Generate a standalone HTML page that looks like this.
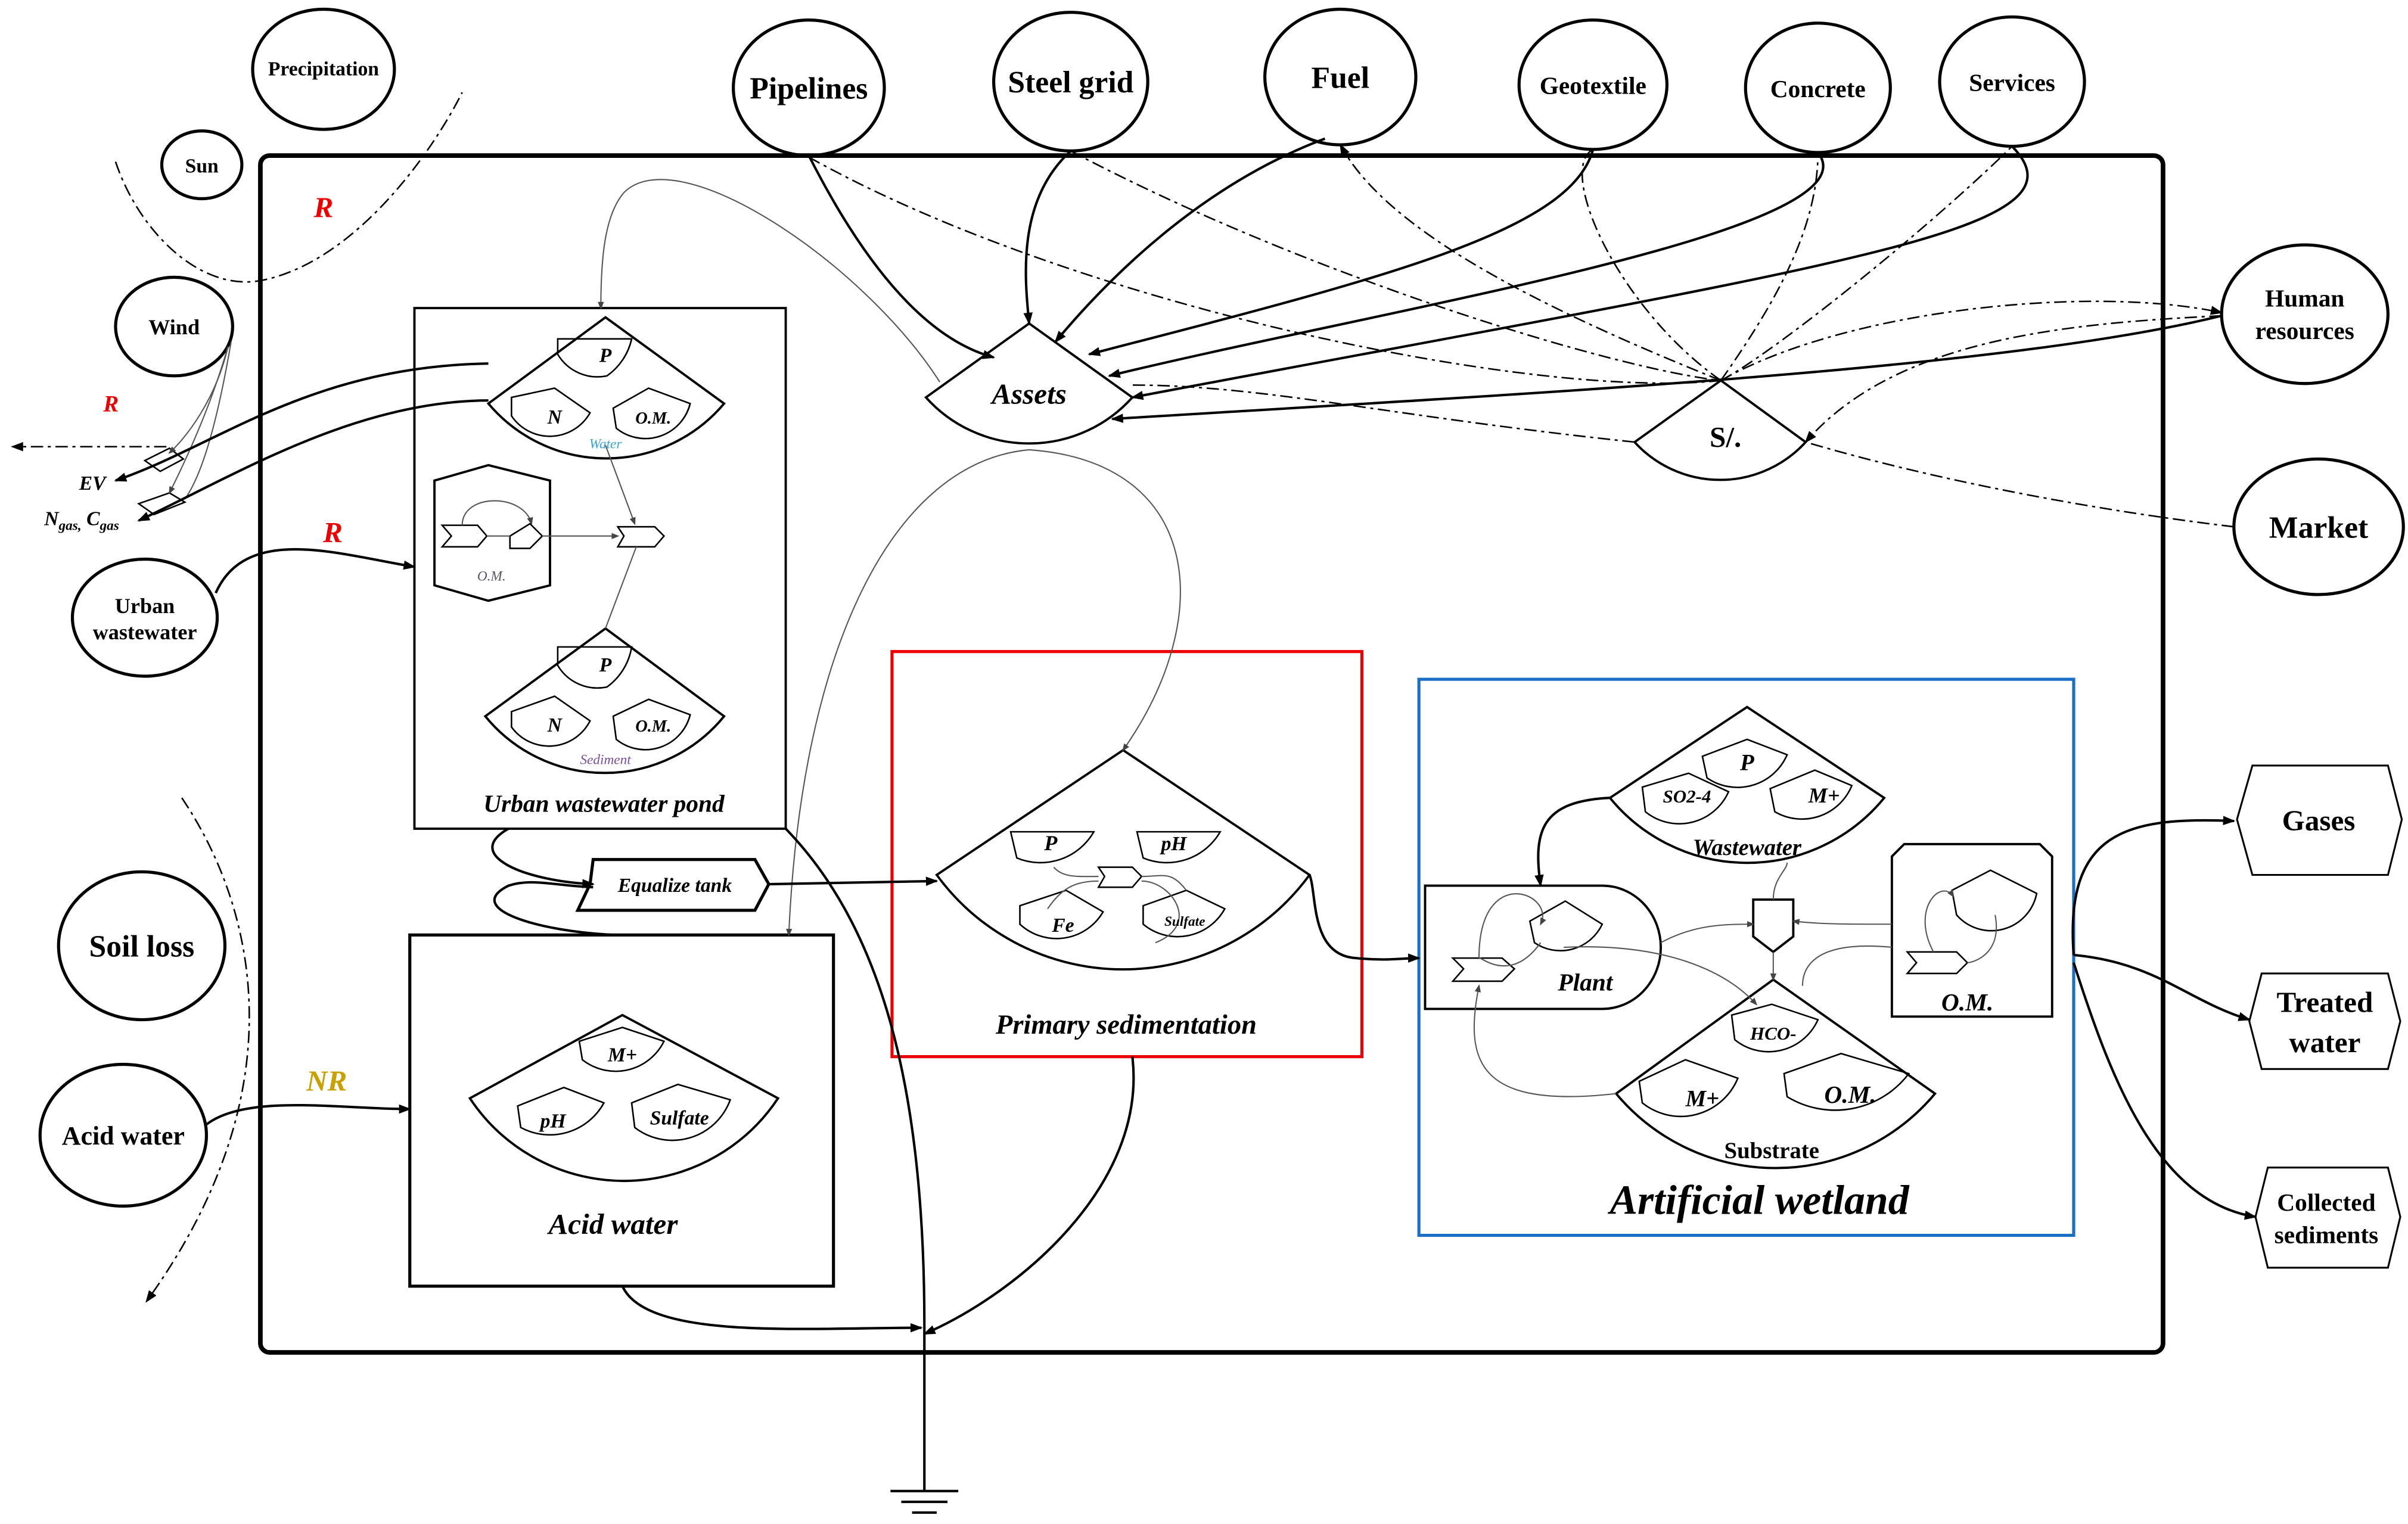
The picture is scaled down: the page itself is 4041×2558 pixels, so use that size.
<!DOCTYPE html>
<html><head><meta charset="utf-8"><style>
html,body{margin:0;padding:0;background:#fff}
svg{display:block}
text{font-family:"Liberation Serif",serif;font-weight:bold;fill:#000}
.i{font-style:italic}
</style></head><body>
<svg width="4041" height="2558" viewBox="0 0 1563 989.4" xmlns="http://www.w3.org/2000/svg">
<defs>
<marker id="a" markerWidth="8" markerHeight="8" refX="7" refY="4" orient="auto" markerUnits="userSpaceOnUse"><path d="M0,1 L8,4 L0,7 Z" fill="#000"/></marker>
<marker id="s" markerWidth="5" markerHeight="5" refX="4" refY="2.5" orient="auto" markerUnits="userSpaceOnUse"><path d="M0,0.5 L5,2.5 L0,4.5 Z" fill="#444"/></marker>
</defs>
<rect width="1563" height="989.4" fill="#fff"/>
<g fill="none" stroke="#000">
<rect x="169" y="101" width="1235" height="777" rx="6" stroke-width="3"/>
<g stroke-width="2">
<ellipse cx="525" cy="57" rx="49" ry="44"/><ellipse cx="695" cy="53" rx="50" ry="45"/>
<ellipse cx="870" cy="50" rx="49" ry="44"/><ellipse cx="1034" cy="55" rx="48" ry="42"/>
<ellipse cx="1180" cy="57" rx="47" ry="42"/><ellipse cx="1306" cy="53" rx="47" ry="42"/>
<ellipse cx="210" cy="45" rx="46" ry="39"/><ellipse cx="131" cy="107" rx="26" ry="22"/>
<ellipse cx="113" cy="212" rx="38" ry="32"/><ellipse cx="94" cy="401" rx="47" ry="38"/>
<ellipse cx="92" cy="614" rx="54" ry="48"/><ellipse cx="80" cy="737" rx="54" ry="46"/>
<ellipse cx="1496" cy="204" rx="54" ry="45"/><ellipse cx="1505" cy="342" rx="55" ry="44"/>
</g>
<path d="M1462,497 L1550,497 L1559,532 L1550,568 L1462,568 L1452,532 Z" stroke-width="1.2"/>
<path d="M1468,632 L1550,632 L1558,663 L1550,694 L1468,694 L1460,663 Z" stroke-width="1.2"/>
<path d="M1472,758 L1550,758 L1558,790 L1550,823 L1472,823 L1464,790 Z" stroke-width="1.2"/>
<rect x="269" y="200" width="241" height="338" stroke-width="1.5"/>
<rect x="266" y="607" width="275" height="228" stroke-width="2"/>
<rect x="579" y="423" width="305" height="263" stroke="#e00" stroke-width="2"/>
<rect x="921" y="441" width="425" height="361" stroke="#1a6fc4" stroke-width="2"/>
<g stroke-width="1.5">
<path d="M668,210 L735,258 A90,90 0 0 1 601,258 Z"/>
<path d="M1117,247 L1172,287 A75,75 0 0 1 1061,287 Z"/>
<path d="M393,206 L470,262 A100,100 0 0 1 317,262 Z"/>
<path d="M393,408 L470,465 A100,100 0 0 1 315,465 Z"/>
<path d="M729,487 L850,568 A150,150 0 0 1 608,568 Z"/>
<path d="M404,659 L505,713 A120,120 0 0 1 305,713 Z"/>
<path d="M1134,459 L1223,518 A115,115 0 0 1 1045,518 Z"/>
<path d="M1151,636 L1256,710 A135,135 0 0 1 1049,710 Z"/>
<path d="M1236,548 L1324,548 L1332,556 L1332,660 L1228,660 L1228,556 Z"/>
<path d="M925,575 L1040,575 A38,40 0 0 1 1040,655 L925,655 Z"/>
<path d="M385,558 L490,558 L499,574 L490,591 L375,591 L383,574 Z" stroke-width="2"/>
<path d="M1138,584 L1164,584 L1164,608 L1151,618 L1138,608 Z"/>
<path d="M282,312 L317,302 L357,312 L357,380 L317,390 L282,380 Z"/>
</g>
<g stroke-width="1">
<path d="M362,220 L410,220 A40,40 0 0 1 394,244 A30,30 0 0 1 362,230 Z"/>
<path d="M332,258 L360,252 L383,268 A30,30 0 0 1 332,270 Z"/>
<path d="M398,265 L421,252 L448,262 A30,30 0 0 1 400,278 Z"/>
<path d="M362,420 L410,420 A40,40 0 0 1 394,446 A30,30 0 0 1 362,432 Z"/>
<path d="M332,462 L360,452 L383,468 A30,30 0 0 1 332,472 Z"/>
<path d="M398,465 L421,454 L448,464 A30,30 0 0 1 400,480 Z"/>
<path d="M656,540 L710,540 A40,40 0 0 1 660,557 Z"/>
<path d="M738,540 L792,540 A40,40 0 0 1 742,557 Z"/>
<path d="M662,588 L692,578 L716,592 A35,35 0 0 1 662,600 Z"/>
<path d="M742,588 L770,578 L795,590 A35,35 0 0 1 742,600 Z"/>
<path d="M376,676 L404,667 L431,676 A35,35 0 0 1 378,688 Z"/>
<path d="M336,718 L366,706 L392,716 A40,40 0 0 1 338,732 Z"/>
<path d="M410,716 L440,704 L474,714 A40,40 0 0 1 412,732 Z"/>
<path d="M1105,491 L1134,480 L1160,490 A35,35 0 0 1 1108,505 Z"/>
<path d="M1066,511 L1096,502 L1122,514 A35,35 0 0 1 1068,527 Z"/>
<path d="M1149,512 L1178,500 L1202,510 A35,35 0 0 1 1152,527 Z"/>
<path d="M1124,659 L1150,652 L1180,662 A35,35 0 0 1 1126,675 Z"/>
<path d="M1064,702 L1094,688 L1128,700 A40,40 0 0 1 1066,716 Z"/>
<path d="M1158,697 L1195,684 L1239,697 A60,60 0 0 1 1160,712 Z"/>
<path d="M993,598 L1016,585 L1040,600 A30,30 0 0 1 996,612 Z"/>
<path d="M1267,578 L1292,565 L1322,580 A30,30 0 0 1 1270,594 Z"/>
<path d="M287,341 L310,341 L316,348 L310,355 L287,355 L293,348 Z"/>
<path d="M331,348 L344,340 L352,348 L344,356 L331,356 Z"/>
<path d="M401,342 L425,342 L431,348 L425,355 L401,355 L405,348 Z"/>
<path d="M713,563 L735,563 L741,569 L735,576 L713,576 L717,569 Z"/>
<path d="M943,622 L975,622 L983,629 L975,637 L943,637 L950,629 Z"/>
<path d="M1238,618 L1270,618 L1277,625 L1270,632 L1238,632 L1244,625 Z"/>
<path d="M94,299 L110,291 L119,298 L104,306 Z"/>
<path d="M90,327 L110,320 L120,326 L100,334 Z"/>
</g>
<g stroke="#555" stroke-width="0.8">
<path d="M393,289 L412,340" marker-end="url(#s)"/>
<path d="M316,348 C325,348 330,348 331,348"/>
<path d="M352,348 C370,348 390,348 401,348" marker-end="url(#s)"/>
<path d="M393,408 L413,355"/>
<path d="M300,341 C300,320 340,320 345,340" marker-end="url(#s)"/>
<path d="M684,563 C690,570 700,569 713,569"/>
<path d="M741,569 C755,569 760,565 770,578"/>
<path d="M680,590 C690,575 700,572 713,572"/>
<path d="M741,572 C760,572 780,600 750,612"/>
<path d="M960,622 C960,560 1010,580 1000,600" marker-end="url(#s)"/>
<path d="M1000,612 C980,640 960,620 960,622"/>
<path d="M1255,618 C1240,590 1260,570 1268,582" marker-end="url(#s)"/>
<path d="M1295,594 C1300,620 1280,625 1277,625"/>
<path d="M1078,612 C1100,600 1120,600 1138,600" marker-end="url(#s)"/>
<path d="M1228,600 C1200,600 1180,600 1164,598" marker-end="url(#s)"/>
<path d="M1151,584 C1151,570 1160,565 1160,560"/>
<path d="M1151,618 L1151,636" marker-end="url(#s)"/>
<path d="M1015,615 C1080,612 1120,630 1140,652" marker-end="url(#s)"/>
<path d="M1228,615 C1175,610 1170,630 1170,640"/>
<path d="M1049,710 C960,720 950,690 960,640" marker-end="url(#s)"/>
<path d="M610,248 C560,170 440,90 405,125 C392,140 390,170 390,200" marker-end="url(#s)"/>
<path d="M668,292 C580,300 520,420 512,607" marker-end="url(#s)"/>
<path d="M668,292 C780,300 790,400 729,487" marker-end="url(#s)"/>
<path d="M148,225 C140,260 120,285 110,294" marker-end="url(#s)"/>
<path d="M148,225 C135,270 115,310 110,320" marker-end="url(#s)"/>
<path d="M150,222 C140,280 130,310 120,324"/>
</g>
<g stroke-dasharray="8,3,2,3" stroke-width="1">
<path d="M75,105 C90,150 130,190 170,182 C230,170 280,100 300,60"/>
<path d="M118,518 C160,580 200,700 95,845" marker-end="url(#a)"/>
<path d="M108,290 L8,290" marker-end="url(#a)"/>
<path d="M525,102 C700,200 1000,260 1117,247"/>
<path d="M695,98 C850,180 1050,240 1117,247"/>
<path d="M1117,247 C1000,200 900,150 870,94" marker-end="url(#a)"/>
<path d="M1117,247 C1050,200 1010,110 1034,97"/>
<path d="M1117,247 C1150,200 1180,150 1180,99"/>
<path d="M1117,247 C1150,230 1250,150 1306,95"/>
<path d="M1117,247 C1200,200 1360,185 1442,203" marker-end="url(#a)"/>
<path d="M1442,205 C1340,210 1230,220 1172,287" marker-end="url(#a)"/>
<path d="M1450,342 C1350,330 1250,310 1172,287"/>
<path d="M1061,287 C900,270 820,250 735,250"/>
</g>
<g stroke-width="1.6">
<path d="M525,101 C560,170 600,220 645,232" marker-end="url(#a)"/>
<path d="M695,98 C660,130 665,180 668,210" marker-end="url(#a)"/>
<path d="M860,90 C780,120 720,180 685,222" marker-end="url(#a)"/>
<path d="M1034,97 C1020,150 900,180 707,230" marker-end="url(#a)"/>
<path d="M1180,99 C1220,150 900,200 720,244" marker-end="url(#a)"/>
<path d="M1306,95 C1360,150 1200,170 735,258" marker-end="url(#a)"/>
<path d="M1442,205 C1300,240 1000,255 722,272" marker-end="url(#a)"/>
<path d="M317,236 C200,238 140,290 75,312" marker-end="url(#a)"/>
<path d="M317,260 C230,260 150,310 90,338" marker-end="url(#a)"/>
<path d="M140,385 C160,340 220,360 269,368" marker-end="url(#a)"/>
<path d="M134,730 C160,710 220,720 266,720" marker-end="url(#a)"/>
<path d="M330,538 C300,555 340,572 385,574" marker-end="url(#a)"/>
<path d="M400,607 C350,605 300,590 330,575 C345,570 360,575 385,576"/>
<path d="M499,574 L608,572" marker-end="url(#a)"/>
<path d="M850,568 C855,580 850,620 880,622 C900,624 910,622 921,622" marker-end="url(#a)"/>
<path d="M1045,518 C1000,520 995,540 1000,575" marker-end="url(#a)"/>
<path d="M1346,620 C1340,540 1380,530 1450,533" marker-end="url(#a)"/>
<path d="M1346,620 C1400,625 1420,650 1460,662" marker-end="url(#a)"/>
<path d="M1346,625 C1370,700 1400,780 1464,790" marker-end="url(#a)"/>
<path d="M510,538 C570,600 600,700 600,860"/>
<path d="M735,686 C745,770 660,840 600,866" marker-end="url(#a)"/>
<path d="M404,835 C420,870 520,862 598,862" marker-end="url(#a)"/>
<path d="M600,860 L600,968"/>
<path d="M578,968 L622,968 M585,975 L615,975 M592,982 L608,982"/>
</g>
</g>
<g text-anchor="middle">
<text x="525" y="64" font-size="20">Pipelines</text>
<text x="695" y="60" font-size="20">Steel grid</text>
<text x="870" y="57" font-size="20">Fuel</text>
<text x="1034" y="61" font-size="16">Geotextile</text>
<text x="1180" y="63" font-size="16">Concrete</text>
<text x="1306" y="59" font-size="16">Services</text>
<text x="210" y="49" font-size="13">Precipitation</text>
<text x="131" y="112" font-size="13">Sun</text>
<text x="113" y="217" font-size="14">Wind</text>
<text x="94" y="398" font-size="14">Urban</text>
<text x="94" y="415" font-size="14">wastewater</text>
<text x="92" y="621" font-size="20">Soil loss</text>
<text x="80" y="743" font-size="17">Acid water</text>
<text x="1496" y="199" font-size="16">Human</text>
<text x="1496" y="220" font-size="16">resources</text>
<text x="1505" y="349" font-size="20">Market</text>
<text x="1505" y="539" font-size="19">Gases</text>
<text x="1509" y="657" font-size="19">Treated</text>
<text x="1509" y="683" font-size="19">water</text>
<text x="1510" y="786" font-size="16">Collected</text>
<text x="1510" y="807" font-size="16">sediments</text>
<text x="668" y="262" font-size="19" class="i">Assets</text>
<text x="1120" y="290" font-size="19">S/.</text>
<text x="210" y="141" font-size="19" style="fill:#e00" class="i">R</text>
<text x="72" y="267" font-size="15" style="fill:#e00" class="i">R</text>
<text x="216" y="352" font-size="19" style="fill:#e00" class="i">R</text>
<text x="212" y="708" font-size="19" style="fill:#c9a000" class="i">NR</text>
<text x="60" y="318" font-size="13" class="i">EV</text>
<text x="53" y="341" font-size="13" class="i">N<tspan font-size="9" dy="3">gas,</tspan><tspan dy="-3"> C</tspan><tspan font-size="9" dy="3">gas</tspan></text>
<text x="393" y="235" font-size="13" class="i">P</text>
<text x="360" y="275" font-size="13" class="i">N</text>
<text x="424" y="275" font-size="11" class="i">O.M.</text>
<text x="393" y="291" font-size="9" class="i" style="fill:#3aa6d8;font-weight:normal">Water</text>
<text x="393" y="436" font-size="13" class="i">P</text>
<text x="360" y="475" font-size="13" class="i">N</text>
<text x="424" y="475" font-size="11" class="i">O.M.</text>
<text x="393" y="496" font-size="9" class="i" style="fill:#7a4fa0;font-weight:normal">Sediment</text>
<text x="319" y="377" font-size="9" class="i" style="font-weight:normal;fill:#556">O.M.</text>
<text x="392" y="527" font-size="16" class="i">Urban wastewater pond</text>
<text x="438" y="579" font-size="13" class="i">Equalize tank</text>
<text x="682" y="552" font-size="14" class="i">P</text>
<text x="762" y="552" font-size="13" class="i">pH</text>
<text x="690" y="605" font-size="13" class="i">Fe</text>
<text x="769" y="601" font-size="9" class="i">Sulfate</text>
<text x="731" y="671" font-size="18" class="i">Primary sedimentation</text>
<text x="404" y="689" font-size="13" class="i">M+</text>
<text x="359" y="732" font-size="13" class="i">pH</text>
<text x="441" y="730" font-size="13" class="i">Sulfate</text>
<text x="398" y="801" font-size="19" class="i">Acid water</text>
<text x="1134" y="500" font-size="15" class="i">P</text>
<text x="1095" y="521" font-size="12" class="i">SO2-4</text>
<text x="1184" y="521" font-size="14" class="i">M+</text>
<text x="1134" y="555" font-size="15" class="i">Wastewater</text>
<text x="1029" y="643" font-size="16" class="i">Plant</text>
<text x="1277" y="656" font-size="16" class="i">O.M.</text>
<text x="1151" y="675" font-size="12" class="i">HCO-</text>
<text x="1105" y="718" font-size="15" class="i">M+</text>
<text x="1201" y="716" font-size="16" class="i">O.M.</text>
<text x="1150" y="752" font-size="15">Substrate</text>
<text x="1142" y="788" font-size="27" class="i">Artificial wetland</text>
</g>
</svg>
</body></html>
